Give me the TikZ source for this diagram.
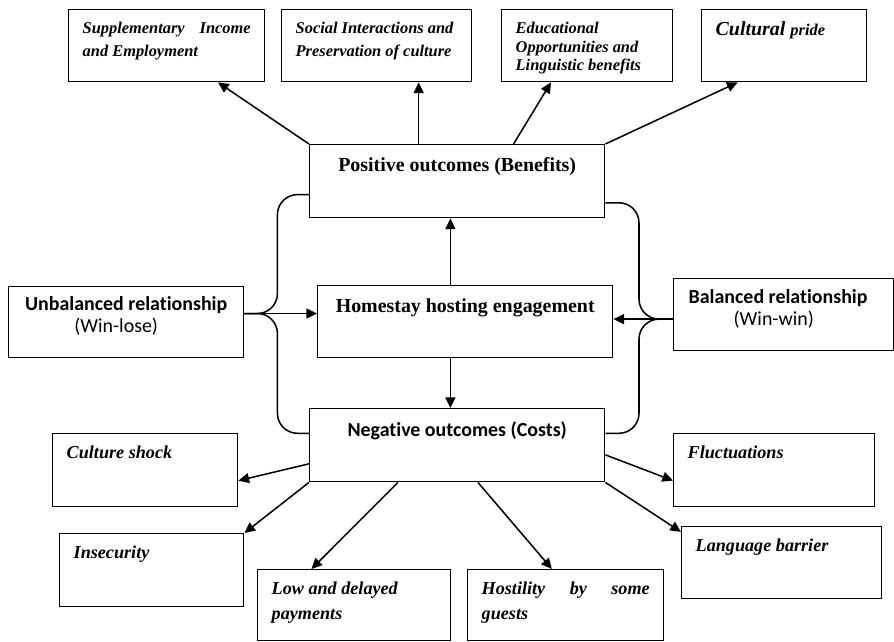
\documentclass[tikz,border=0pt]{standalone}
\usepackage{fontspec}
\setmainfont{Liberation Serif}
\newfontfamily\calibri[Ligatures=NoCommon]{Carlito}
\usetikzlibrary{calc,arrows.meta}

\newcommand{\benefitfont}{\fontsize{14}{19.5}\selectfont\bfseries\itshape}
\newcommand{\costfont}{\fontsize{15.5}{21}\selectfont\bfseries\itshape}

\tikzset{
  outbox/.style={draw, line width=1.2pt, anchor=north west, inner xsep=0.42cm, inner ysep=0.37cm},
  midbox/.style={draw, line width=1.2pt, anchor=north west, inner xsep=0.1cm, inner ysep=0.39cm},
  arr/.style={line width=1.3pt, -{Triangle[length=3.2mm,width=3mm]}},
  brace/.style={line width=1.3pt, rounded corners=0.6cm}
}

\begin{document}
\begin{tikzpicture}[x=0.03cm,y=-0.03cm]
    \useasboundingbox (0,0) rectangle (894,641);

    % benefits
    \node[outbox] (supp) at (68,9) {\parbox[t][1.42cm][t]{5.04cm}{\benefitfont Supplementary Income\linebreak and Employment}};
    \node[outbox] (social) at (281,9) {\parbox[t][1.42cm][t]{4.86cm}{\benefitfont Social Interactions and\\ Preservation of culture}};
    \node[outbox] (educ) at (501,9) {\parbox[t][1.42cm][t]{4.29cm}{\fontsize{14}{16}\selectfont\bfseries\itshape Educational\\ Opportunities and\\ Linguistic benefits}};
    \node[outbox] (pride) at (701,9) {\parbox[t][1.42cm][t]{4.11cm}{\fontsize{17}{19}\selectfont\bfseries\itshape Cultural {\fontsize{14}{19}\selectfont pride}}};

    % middle column
    \node[midbox] (pos) at (309,144) {\parbox[t][1.41cm][t]{8.65cm}{\centering\fontsize{17}{20}\selectfont\bfseries Positive outcomes (Benefits)}};
    \node[midbox] (home) at (317,285) {\parbox[t][1.38cm][t]{8.65cm}{\centering\fontsize{17}{20}\selectfont\bfseries Homestay hosting engagement}};
    \node[midbox] (neg) at (309,408) {\parbox[t][1.41cm][t]{8.65cm}{\centering\calibri\fontsize{17}{20}\selectfont\bfseries Negative outcomes (Costs)}};

    % relationships
    \node[midbox, inner ysep=0.3cm] (unb) at (8,286) {\parbox[t][1.53cm][t]{6.85cm}{\centering\calibri\fontsize{17}{18.7}\selectfont{\bfseries Unbalanced relationship}\\ (Win-lose)\hspace*{0.6cm}\null}};
    \node[midbox, inner xsep=0.45cm, inner ysep=0.33cm] (bal) at (673,278) {\parbox[t][1.5cm][t]{5.7cm}{\calibri\fontsize{17}{18.7}\selectfont{\bfseries Balanced relationship}\\ \hspace*{1.35cm}(Win-win)}};

    % costs
    \node[outbox] (cs) at (52,433) {\parbox[t][1.45cm][t]{4.71cm}{\costfont Culture shock}};
    \node[outbox] (ins) at (59,533) {\parbox[t][1.45cm][t]{4.68cm}{\costfont Insecurity}};
    \node[outbox] (low) at (257,569) {\parbox[t][1.39cm][t]{4.95cm}{\costfont Low and delayed\\ payments}};
    \node[outbox] (host) at (467,569) {\parbox[t][1.39cm][t]{5.04cm}{\costfont Hostility by some\linebreak guests}};
    \node[outbox] (fluc) at (673,433) {\parbox[t][1.45cm][t]{5.19cm}{\costfont Fluctuations}};
    \node[outbox] (lang) at (681,526) {\parbox[t][1.42cm][t]{5.16cm}{\costfont Language barrier}};

    % arrows to benefits
    \draw[arr] (pos.north west) -- ($(supp.south west)!0.76!(supp.south east)$);
    \draw[arr] ($(pos.north west)!0.37!(pos.north east)$) coordinate (p1) -- (p1 |- social.south);
    \draw[arr] ($(pos.north west)!0.69!(pos.north east)$) -- ($(educ.south west)!0.29!(educ.south east)$);
    \draw[arr] (pos.north east) -- ($(pride.south west)!0.22!(pride.south east)$);

    \draw[arr] ($(home.north west)!0.45!(home.north east)$) coordinate (h1) -- (h1 |- pos.south);
    \draw[arr] ($(home.south west)!0.45!(home.south east)$) coordinate (h2) -- (h2 |- neg.north);

    % left brace
    \draw[arr] ($(unb.north east)!0.38!(unb.south east)$) coordinate (u0) -- (u0 -| home.west);
    \coordinate (ltip) at ($(u0)+(33,0)$);
    \draw[brace] ($(pos.north west)!0.68!(pos.south west)$) -| (ltip) -- (u0);
    \draw[brace] ($(neg.north west)!0.34!(neg.south west)$) -| (ltip) -- (u0);

    % right brace
    \draw[arr] ($(bal.north west)!0.56!(bal.south west)$) coordinate (b0) -- (b0 -| home.east);
    \coordinate (rtip) at ($(b0)+(-34,0)$);
    \draw[brace] ($(pos.north east)!0.79!(pos.south east)$) -| (rtip) -- (b0);
    \draw[brace] ($(neg.north east)!0.34!(neg.south east)$) -| (rtip) -- (b0);

    % arrows to costs
    \draw[arr] ($(neg.north west)!0.75!(neg.south west)$) -- ($(cs.north east)!0.64!(cs.south east)$);
    \draw[arr] (neg.south west) -- (ins.north east);
    \draw[arr] ($(neg.south west)!0.30!(neg.south east)$) -- ($(low.north west)!0.28!(low.north east)$);
    \draw[arr] ($(neg.south west)!0.57!(neg.south east)$) -- ($(host.north west)!0.43!(host.north east)$);
    \draw[arr] ($(neg.north east)!0.63!(neg.south east)$) -- ($(fluc.north west)!0.64!(fluc.south west)$);
    \draw[arr] (neg.south east) -- ($(lang.north west)!0.08!(lang.south west)$);

\end{tikzpicture}
\end{document}
